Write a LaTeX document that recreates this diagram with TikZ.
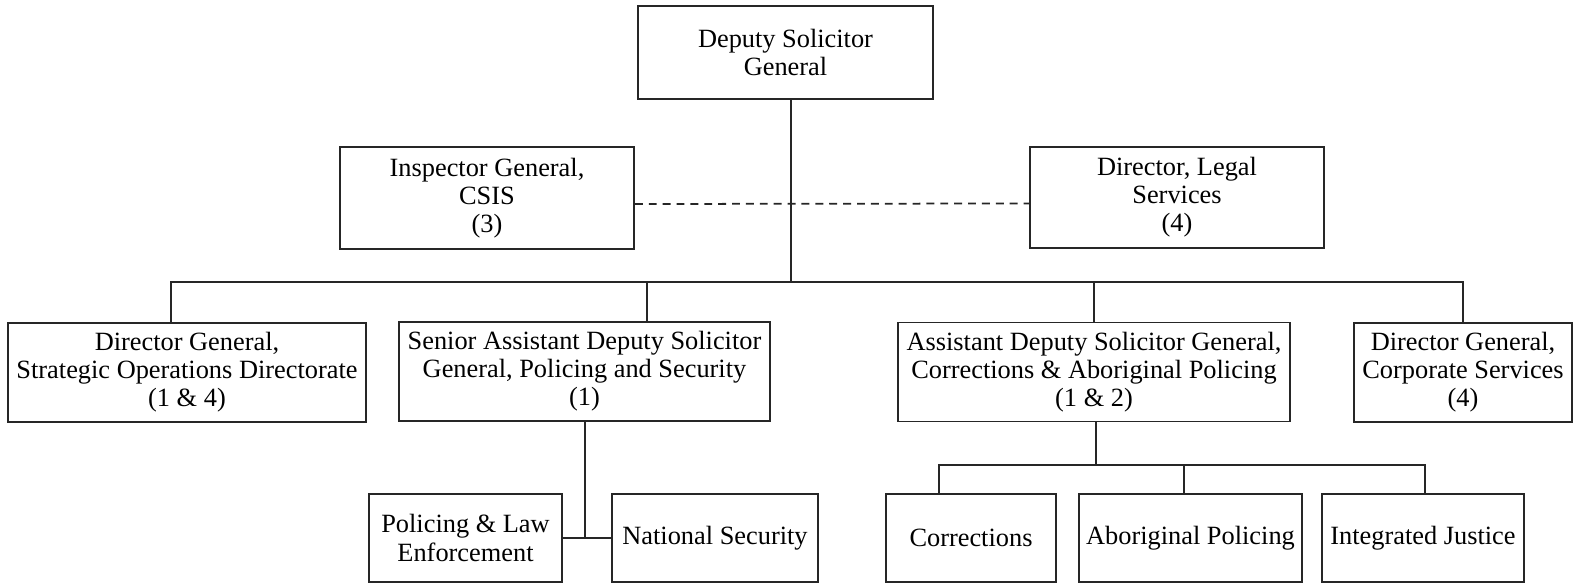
\documentclass[tikz,border=0pt]{standalone}
\usepackage{fontspec}
\setmainfont{Liberation Serif}
\usepackage{tikz}

\begin{document}
\begin{tikzpicture}[line cap=rect,
  box/.style={draw=black!85,line width=1pt,align=center,inner sep=1pt,minimum height=1.98cm},
  link/.style={draw=black!85,line width=1pt},
  font=\fontsize{15}{16}\selectfont]
\useasboundingbox (0,0) rectangle (31.5,11.7);
\node[box,minimum width=5.9cm,minimum height=1.86cm] (dsg) at (15.71,10.65) {Deputy Solicitor\\General};
\node[box,minimum width=5.88cm,minimum height=2.03cm] (insp) at (9.74,7.74) {Inspector General,\\CSIS\\(3)};
\node[box,minimum width=5.88cm,minimum height=2.03cm] (legal) at (23.54,7.75) {Director, Legal\\Services\\(4)};
\node[box,minimum width=7.16cm] (dgsod) at (3.74,4.25) {Director General,\\Strategic Operations Directorate\\(1 \& 4)};
\node[box,minimum width=7.42cm] (sadsg) at (11.69,4.27) {Senior Assistant Deputy Solicitor\\General, Policing and Security\\(1)};
\node[box,minimum width=7.84cm] (adsg) at (21.88,4.26) {Assistant Deputy Solicitor General,\\Corrections \& Aboriginal Policing\\(1 \& 2)};
\node[box,minimum width=4.36cm] (dgcs) at (29.26,4.25) {Director General,\\Corporate Services\\(4)};
\node[box,minimum width=3.86cm,minimum height=1.76cm] (plaw) at (9.31,0.94) {Policing \& Law\\Enforcement};
\node[box,minimum width=4.12cm,minimum height=1.76cm] (natsec) at (14.3,0.94) {National Security};
\node[box,minimum width=3.4cm,minimum height=1.76cm] (corr) at (19.42,0.94) {Corrections};
\node[box,minimum width=4.46cm,minimum height=1.76cm] (abor) at (23.81,0.94) {Aboriginal Policing};
\node[box,minimum width=4.04cm,minimum height=1.76cm] (integ) at (28.46,0.94) {Integrated Justice};
\coordinate (trunk) at (15.82,6.06);
\coordinate (busL) at (3.42,6.06);
\coordinate (busM) at (12.94,6.06);
\coordinate (spine) at (11.7,0.94);
\coordinate (sub) at (21.92,2.4);
\coordinate (subL) at (18.78,2.4);
\coordinate (subM) at (23.68,2.4);
\coordinate (subR) at (28.5,2.4);
\draw[link] (dsg.south -| trunk) -- (trunk);
\draw[link] (busL) -- (dgcs.north |- trunk);
\draw[link] (busL) -- (busL |- dgsod.north);
\draw[link] (busM) -- (busM |- sadsg.north);
\draw[link] (adsg.north) -- (adsg.north |- trunk);
\draw[link] (dgcs.north) -- (dgcs.north |- trunk);
\draw[link,line cap=butt,dash pattern=on 4.5pt off 3.4pt] ([yshift=-0.12cm]insp.east) -- ([yshift=-0.12cm]legal.west);
\draw[link] (sadsg.south -| spine) -- (spine);
\draw[link] (plaw.east) -- (natsec.west);
\draw[link] (adsg.south -| sub) -- (sub);
\draw[link] (subL) -- (subR);
\draw[link] (subL) -- (subL |- corr.north);
\draw[link] (subM) -- (subM |- abor.north);
\draw[link] (subR) -- (subR |- integ.north);
\end{tikzpicture}
\end{document}
